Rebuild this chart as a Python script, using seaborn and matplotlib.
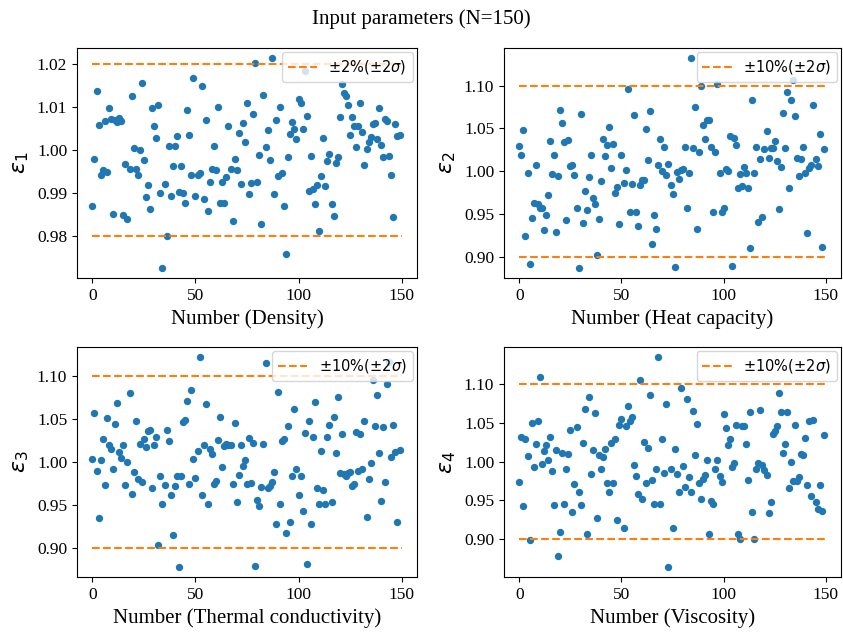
import numpy as np
import pandas as pd
import matplotlib
matplotlib.use("Agg")
import matplotlib.pyplot as plt
import seaborn as sns

# ------------------------------------------------------------------
# DATA
# ------------------------------------------------------------------

density = [
    0.987, 0.998, 1.0138, 1.0059, 0.9943, 0.9953, 1.0067, 0.995, 1.0097, 1.0072,
    0.9851, 1.007, 1.0065, 1.0075, 1.0068, 0.9849, 0.9967, 0.984, 0.9956, 1.0126,
    1.0004, 0.9955, 0.9942, 1.0001, 1.0157, 0.9978, 0.9892, 0.9919, 0.9864, 1.0099,
    1.0056, 1.0029, 1.0106, 0.99, 0.9727, 0.9922, 0.9801, 1.0009, 0.9893, 0.9964,
    1.001, 1.0033, 0.9903, 0.9964, 0.9901, 0.9878, 1.0094, 1.0036, 0.9942, 1.0167,
    0.9894, 0.9942, 0.9947, 1.0148, 0.9887, 1.0071, 0.9859, 0.9927, 0.9957, 1.0009,
    0.9954, 1.01, 0.9878, 0.9926, 0.9878, 0.9938, 1.0057, 0.9957, 0.9835, 0.998,
    0.9954, 1.004, 0.9921, 1.0064, 1.0019, 1.011, 0.9898, 0.9924,
    1.0084, 1.0202, 0.9925, 0.9988, 0.9829, 1.0129, 1.0007, 1.0047, 0.9977, 1.0213,
    0.9898, 1.0069, 0.9939, 1.01, 0.9946, 0.9871, 0.9759, 0.9985, 1.0038, 1.0066,
    1.0049, 1.0025, 1.0118, 1.0109, 1.005, 1.0184, 1.0079, 0.9905, 0.9987, 0.991,
    0.9874, 0.992, 0.9812, 0.9939, 1.0029, 0.9916, 0.9975, 0.9992, 0.9875, 0.9847,
    0.9971, 0.9984, 1.0076, 1.0153, 1.0133, 1.0126, 1.0106, 1.0034, 1.0078, 1.0057,
    1.0008, 1.0057, 1.0109, 1.0041, 0.9965, 1.0003, 1.0018, 1.0031, 1.006, 1.0064,
    1.0026, 1.0097, 1.0013, 0.9984, 1.0072, 1.0067, 0.9987, 0.9943, 0.9845, 1.0061,
    1.0032, 1.0036,
]

heat_capacity = [
    1.0297, 1.0184, 1.0477, 0.9246, 0.998, 0.891, 0.9449, 0.9625, 1.007, 0.9613,
    0.9563, 0.957, 0.9316, 0.9484, 0.9719, 1.0359, 0.9965, 1.0195, 0.9285, 0.9941,
    1.0719, 1.0559, 1.0336, 0.943, 1.0371, 1.0059, 1.0078, 0.9953, 0.9563, 0.8871,
    1.0672, 0.9398, 0.977, 0.9547, 0.9934, 1.0191, 0.9691, 0.9613, 0.9016, 0.9445,
    0.9887, 1.0375, 1.0176, 1.0309, 1.0523, 1.0043, 1.032, 0.9742, 0.9813, 0.9387,
    1.0195, 0.9863, 1.0008, 1.0961, 0.9516, 0.9855, 1.066, 0.9523, 0.9352, 0.9836,
    0.9902, 0.9902, 1.0492, 1.0129, 1.0707, 0.9148, 0.9488, 0.932, 1.0078, 1.0375,
    1.0004, 1.0285, 0.9953, 1.0086, 0.984, 0.9734, 0.8879,
    0.9988, 0.991, 1.0012, 1.0023, 1.0281, 0.9566, 0.9984, 1.132, 1.0277, 1.075,
    0.932, 1.0223, 1.1, 1.0543, 1.0375, 1.0594, 1.0598, 1.0281, 0.9527, 1.0223,
    1.102, 0.9984, 0.9516, 0.9566, 1.0023, 1.0, 1.0414, 0.8895, 1.0387, 1.0309,
    0.9801, 0.9969, 0.9832, 1.0051, 0.9977, 0.9801, 0.9105, 1.0828, 0.9984, 1.0289,
    0.941, 1.0148, 0.9465, 1.0262, 1.0469, 1.016, 1.027, 1.0277, 1.0355, 1.0117,
    0.9555, 1.0051, 1.0684, 1.027, 1.093, 0.9801, 1.0836, 1.107, 1.0641, 1.0156,
    0.9949, 1.0141, 1.0285, 0.9973, 0.927, 1.0039, 1.0078, 1.0781, 1.0145, 1.0059,
    1.0438, 0.9113, 1.0254,
]

thermal_conductivity = [
    1.0039, 1.0575, 0.9895, 0.9344, 1.0023, 1.0264, 0.9736, 1.0513, 1.0202, 1.0151,
    0.9918, 1.0447, 1.0691, 1.0113, 1.0047, 1.0194, 0.9728, 1.0004, 1.08, 0.9631,
    0.9887, 1.0482, 0.9806, 1.0214, 0.9767, 1.0272, 1.0179, 1.0361, 1.0377, 0.9693,
    1.0198, 1.0291, 0.9029, 0.9833, 0.9507, 0.9728, 1.0377, 1.0241, 0.9612, 0.915,
    0.972, 0.9841, 0.8781, 0.9833, 1.0466, 1.0493, 1.0707, 0.9748, 1.0843, 1.0035,
    0.9814, 1.0128, 1.1216, 0.9619, 1.0194, 1.0672, 0.9511, 1.0155, 1.0093, 0.9748,
    0.9779, 1.0256, 1.0524, 0.9946, 1.019, 1.0206, 1.0202, 1.0194, 0.974, 1.0458,
    0.9534, 0.9849, 1.0202, 0.9953, 1.0019, 0.9748, 1.0283,
    0.9755, 1.0217, 0.8784, 0.9557, 0.9487, 0.9705, 1.0214, 1.1146, 0.9693, 0.972,
    0.9767, 0.9887, 0.9278, 1.0819, 0.9511, 1.0249, 1.0272, 0.9169, 1.0423, 0.9297,
    0.9833, 1.0617, 0.9915, 0.9612, 0.9841, 0.9433, 1.0338, 0.8808, 1.0474, 0.9282,
    1.0291, 1.0703, 0.9693, 0.9507, 1.0132, 0.9678, 0.9515, 1.0295, 1.0427, 0.9538,
    1.0528, 1.0101, 1.0757, 0.9868, 1.0326, 0.9856, 0.9841, 0.9876, 0.9883, 0.9724,
    0.9748, 1.035, 0.9891, 1.0326, 0.9922, 1.0474, 0.9359, 0.9802, 0.9992, 1.0955,
    1.0419, 1.0784, 1.0109, 0.9546, 1.0408, 0.9763, 1.0909, 1.1165, 1.0058, 1.0427,
    1.0117, 0.9301, 1.0136,
]

viscosity = [
    0.9733, 1.0323, 0.9427, 1.0297, 1.0065, 0.8991, 1.05, 0.9935, 1.0228, 1.0522,
    1.109, 0.9966, 1.0138, 1.0211, 1.0026, 1.0319, 0.9875, 0.944, 1.0151, 0.8784,
    0.9095, 1.0116, 0.9457, 0.9909, 1.0095, 1.0405, 0.9353, 0.9711, 1.0444, 0.9612,
    0.9435, 1.0237, 1.0681, 0.9069, 1.0832, 0.9845, 1.0155, 1.0629, 0.9276, 1.0078,
    0.9901, 1.0056, 1.0164, 0.972, 0.9603, 1.0237, 0.9728, 1.0293, 0.9241, 1.0474,
    1.0547, 0.9142, 1.0453, 1.0724, 1.053, 1.0582, 0.9953, 0.981, 0.9586, 1.1052,
    0.9517, 1.0246, 0.9716, 1.0172, 1.0862, 0.9759, 0.9453, 0.9909, 1.1345, 0.9453,
    1.0289, 0.9853, 1.0746, 0.8642, 0.9901, 0.9147, 1.0159,
    0.9845, 0.9608, 1.0953, 0.9944, 0.9668, 1.081, 0.9806, 0.9612, 1.0655, 1.0078,
    1.0491, 0.9728, 0.9513, 0.978, 0.9823, 1.0022, 0.9065, 0.9487, 0.9448, 0.9905,
    1.0017, 0.9815, 0.9737, 1.0616, 1.0427, 1.0216, 1.0297, 0.9931, 0.9983, 1.0466,
    0.9069, 0.9, 1.0461, 1.0461, 1.0228, 0.9763, 1.0638, 0.9345, 0.9, 0.9909,
    0.9987, 1.0672, 0.9961, 0.9884, 0.9828, 0.9332, 0.9474, 1.0362, 1.0397, 1.0453,
    1.0888, 1.0634, 1.0116, 1.0228, 1.0634, 0.9659, 1.0, 0.9754, 1.047, 0.975,
    0.9806, 1.0091, 1.0078, 1.0306, 0.9698, 1.0522, 0.956, 1.0534, 0.9483, 0.9384,
    0.9698, 0.9358, 1.034,
]

names = ["Density", "Heat capacity", "Thermal conductivity", "Viscosity"]
tolerances = [0.02, 0.10, 0.10, 0.10]
legend_labels = [r"$\pm$2%($\pm2\sigma$)", r"$\pm$10%($\pm2\sigma$)",
                 r"$\pm$10%($\pm2\sigma$)", r"$\pm$10%($\pm2\sigma$)"]
series = [density, heat_capacity, thermal_conductivity, viscosity]
N = 150

# ------------------------------------------------------------------
# STYLE
# ------------------------------------------------------------------

plt.rcParams.update({
    "font.family": "serif",
    "font.serif": ["Liberation Serif", "DejaVu Serif"],
    "mathtext.fontset": "dejavusans",
})

fig = plt.figure(figsize=(8.43, 6.32), dpi=100)
fig.suptitle(f"Input parameters (N={N})", fontsize=15, y=0.985)

# axes rectangles in figure fractions [left, bottom, width, height]
rects = [
    [0.0913, 0.5601, 0.4034, 0.3639],
    [0.5979, 0.5601, 0.3998, 0.3639],
    [0.0913, 0.0870, 0.4034, 0.3639],
    [0.5979, 0.0870, 0.3998, 0.3639],
]

for k, (vals, name, tol, lab, rect) in enumerate(
        zip(series, names, tolerances, legend_labels, rects)):
    ax = fig.add_axes(rect)
    df = pd.DataFrame({"idx": np.arange(len(vals)), "eps": vals})
    sns.scatterplot(data=df, x="idx", y="eps", ax=ax, color="C0",
                    s=28, linewidth=0, legend=False)
    ax.plot([0, N], [1 + tol, 1 + tol], "--", color="C1", lw=1.5, label=lab)
    ax.plot([0, N], [1 - tol, 1 - tol], "--", color="C1", lw=1.5)

    ax.set_xticks([0, 50, 100, 150])
    ax.set_xlabel(f"Number ({name})", fontsize=15)
    ax.set_ylabel(rf"$\epsilon_{k + 1}$", fontsize=16)
    ax.tick_params(labelsize=12.5)
    ax.legend(loc="upper right", prop={"family": "DejaVu Sans", "size": 10.5},
              borderaxespad=0.3)

fig.savefig("out.png", dpi=100)
